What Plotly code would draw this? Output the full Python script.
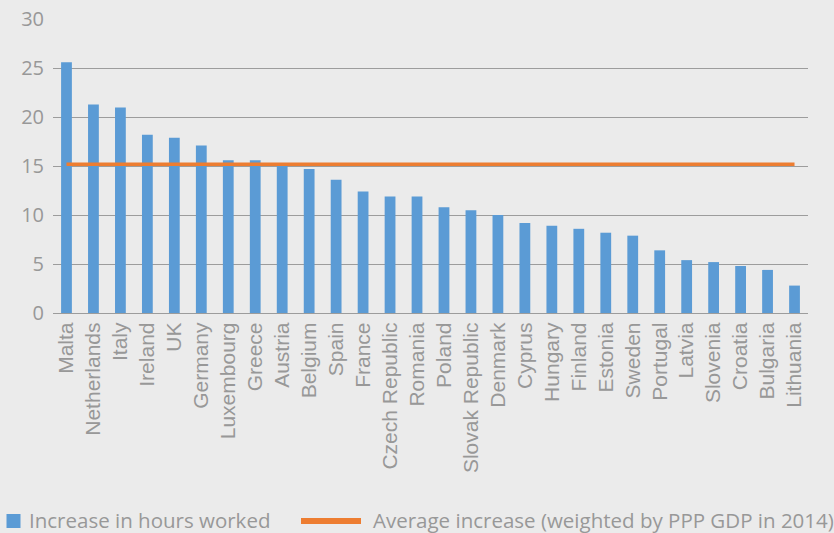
import plotly.graph_objects as go

countries = ["Malta", "Netherlands", "Italy", "Ireland", "UK", "Germany", "Luxembourg",
             "Greece", "Austria", "Belgium", "Spain", "France", "Czech Republic", "Romania",
             "Poland", "Slovak Republic", "Denmark", "Cyprus", "Hungary", "Finland",
             "Estonia", "Sweden", "Portugal", "Latvia", "Slovenia", "Croatia", "Bulgaria",
             "Lithuania"]
hours_increase = [25.6, 21.3, 21.0, 18.2, 17.9, 17.1, 15.6, 15.6, 15.3, 14.7, 13.6, 12.4,
                  11.9, 11.9, 10.8, 10.5, 10.0, 9.2, 8.9, 8.6, 8.2, 7.9, 6.4, 5.4, 5.2,
                  4.8, 4.4, 2.8]
average_increase = 15.2
bar_label = "Increase in hours worked"
line_label = "Average increase (weighted by PPP GDP in 2014)"

BLUE = "#5B9BD5"
ORANGE = "#ED7D31"
GREY_TEXT = "#989898"
GRID = "#9C9C9C"
BG = "#EBEBEB"

W, H = 834, 533
L, R, T, B = 53, 26, 19, 220
PW, PH = W - L - R, H - T - B


def px_x(p):
    """Horizontal pixel position -> paper fraction."""
    return (p - L) / PW


def px_y(q):
    """Vertical pixel position (from top) -> paper fraction."""
    return (H - B - q) / PH


fig = go.Figure()
fig.add_trace(go.Bar(
    x=countries, y=hours_increase, name=bar_label,
    marker=dict(color=BLUE, line=dict(width=0)),
))
fig.add_trace(go.Scatter(
    x=countries, y=[average_increase] * len(countries), mode="lines",
    name=line_label, line=dict(color=ORANGE, width=3.5),
))

# Legend drawn below the category labels
legend_y = 520
fig.add_shape(type="rect", xref="paper", yref="paper",
              x0=px_x(6.5), x1=px_x(20.5), y0=px_y(legend_y + 8), y1=px_y(legend_y - 6),
              fillcolor=BLUE, line=dict(width=0))
fig.add_shape(type="line", xref="paper", yref="paper",
              x0=px_x(301), x1=px_x(361), y0=px_y(legend_y + 1), y1=px_y(legend_y + 1),
              line=dict(color=ORANGE, width=6))
for x_text, txt in [(27, bar_label), (371, line_label)]:
    fig.add_annotation(text=txt, xref="paper", yref="paper", x=px_x(x_text),
                       y=px_y(legend_y), xanchor="left", yanchor="middle",
                       showarrow=False,
                       font=dict(family="Open Sans", size=20.5, color=GREY_TEXT))

fig.update_layout(
    width=W, height=H,
    paper_bgcolor=BG, plot_bgcolor=BG,
    margin=dict(l=L, r=R, t=T, b=B, autoexpand=False),
    bargap=0.6,
    font=dict(family="Open Sans", color=GREY_TEXT),
    showlegend=False,
    xaxis=dict(
        tickangle=-90, automargin=False, tickmode="linear", dtick=1,
        tickfont=dict(size=21, family="Liberation Sans", color=GREY_TEXT),
        showline=True, linecolor=GRID, linewidth=1.2, ticks="", showgrid=False,
    ),
    yaxis=dict(
        range=[0, 30.03], tickvals=[0, 5, 10, 15, 20, 25, 30], automargin=False,
        tickfont=dict(size=20, family="Open Sans", color=GREY_TEXT),
        ticklabelstandoff=8,
        showgrid=True, gridcolor=GRID, gridwidth=1.2, zeroline=False,
        showline=False, ticks="",
    ),
)

fig.write_html("out.html")
